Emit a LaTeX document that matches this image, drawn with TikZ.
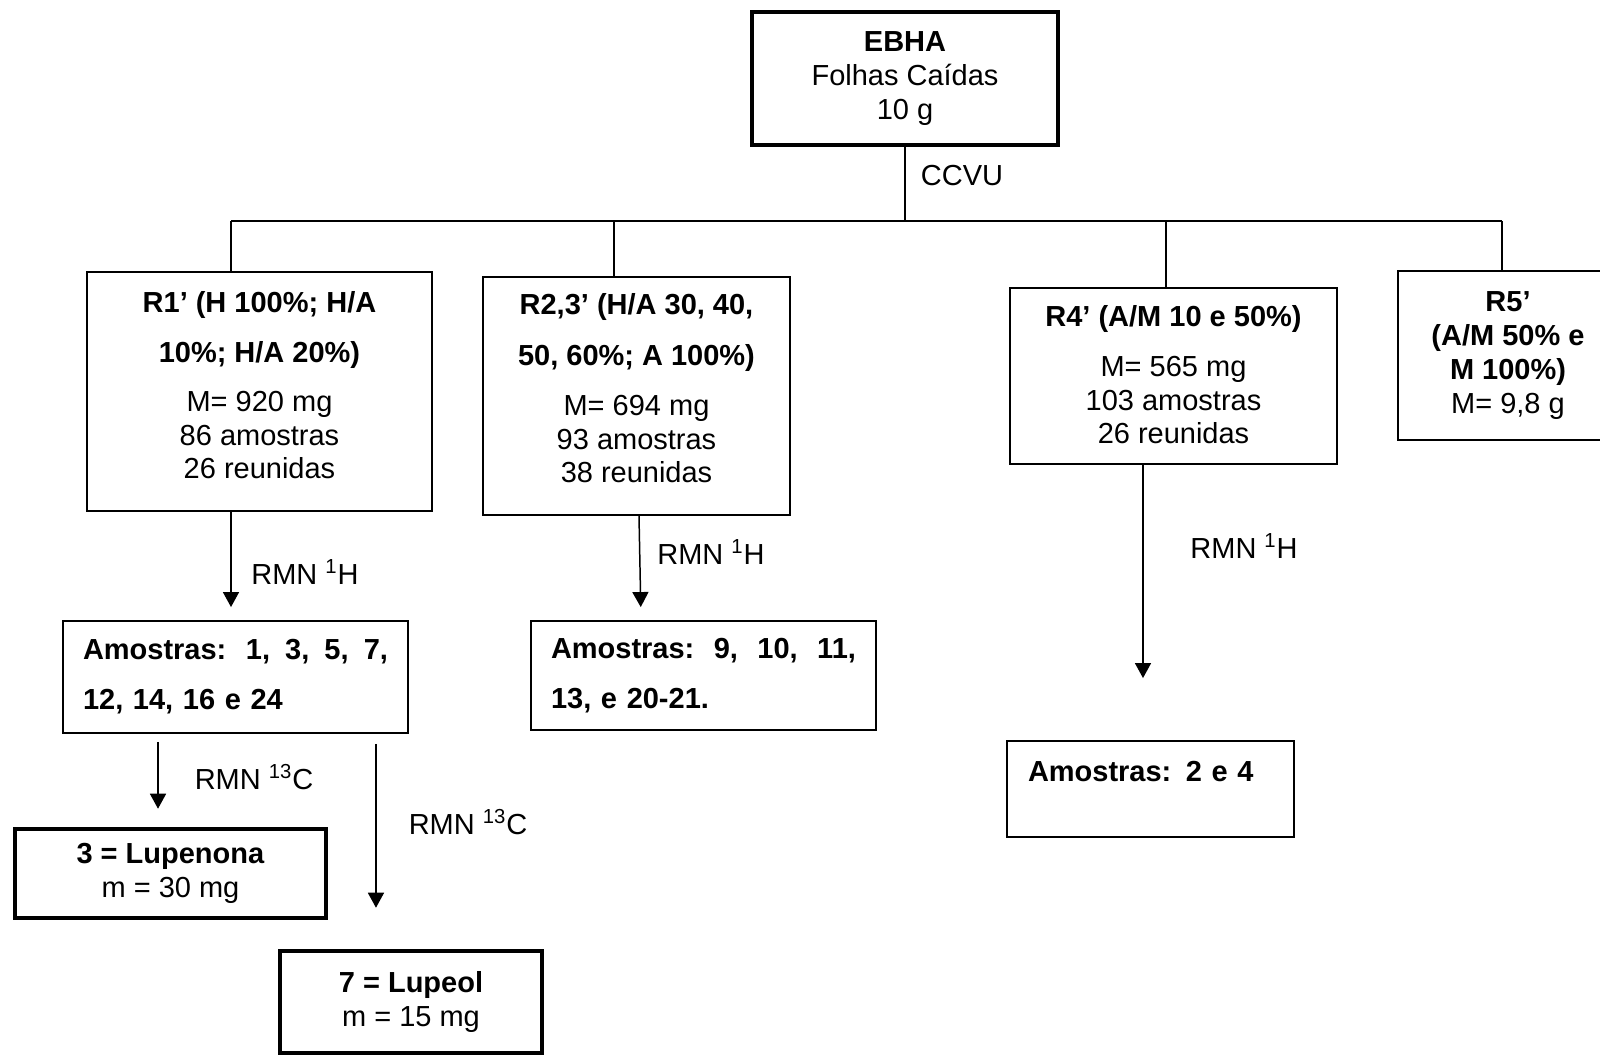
\documentclass[tikz,border=0pt]{standalone}
\usepackage{fontspec}
\setmainfont{Liberation Sans}
\usetikzlibrary{arrows.meta}

\begin{document}
\begin{tikzpicture}[x=0.02cm, y=-0.02cm,
    every node/.style={font=\fontsize{16.5}{19.3}\selectfont, align=center},
    box/.style={draw, line width=1.1pt, inner sep=0pt},
    heavybox/.style={draw, line width=2.6pt, inner sep=0pt},
    link/.style={line width=0.85pt},
    arr/.style={line width=0.85pt, -{Triangle[length=0.3cm, width=0.32cm]}}]
    \useasboundingbox (0,0) rectangle (1600,1055);
    \clip (0,0) rectangle (1600,1055);

    % Extract
    \node[heavybox, minimum width=6.12cm, minimum height=2.66cm] (ebha) at (905,78.5) {\textbf{EBHA}\\Folhas Caídas\\10 g};
    \node (ccvu) at (962,176) {CCVU};

    % Column split
    \coordinate (b1) at (231,221);
    \coordinate (b2) at (614,221);
    \coordinate (b3) at (1166,221);
    \coordinate (b4) at (1502,221);
    \draw[link] (ebha.south) -- (ebha.south |- b1);
    \draw[link] (b1) -- (b4);

    % Fractions
    \node[box, minimum width=6.9cm, minimum height=4.78cm, text height=4.14cm, text depth=0.64cm] (r1) at (259.5,391.5)
        {\textbf{R1’ (H 100\%; H/A}\\[9.2pt]\textbf{10\%; H/A 20\%)}\\[8.6pt]M= 920 mg\\86 amostras\\26 reunidas};
    \node[box, minimum width=6.14cm, minimum height=4.76cm, text height=4.12cm, text depth=0.64cm] (r23) at (636.5,396)
        {\textbf{R2,3’ (H/A 30, 40,}\\[9.7pt]\textbf{50, 60\%; A 100\%)}\\[9.2pt]M= 694 mg\\93 amostras\\38 reunidas};
    \node[box, minimum width=6.54cm, minimum height=3.52cm, text height=3.12cm, text depth=0.4cm] (r4) at (1173.5,376)
        {\textbf{R4’ (A/M 10 e 50\%)}\\[9.2pt]M= 565 mg\\103 amostras\\26 reunidas};
    \node[box, minimum width=4.4cm, minimum height=3.38cm] (r5) at (1508,355.5)
        {\textbf{R5’}\\\textbf{(A/M 50\% e}\\\textbf{M 100\%)}\\M= 9,8 g};

    \draw[link] (b1) -- (b1 |- r1.north);
    \draw[link] (b2) -- (b2 |- r23.north);
    \draw[link] (b3) -- (b3 |- r4.north);
    \draw[link] (b4) -- (b4 |- r5.north);

    % Samples
    \node[box, minimum width=6.9cm, minimum height=2.24cm, text width=6.1cm, align=left] (am1) at (235.5,677)
        {\makebox[6.1cm][l]{\textbf{Amostras:\hskip 0pt plus 1.3fill 1,\hfill 3,\hfill 5,\hfill 7,}}\\[9.2pt]\textbf{12, 14, 16 e 24}};
    \node[box, minimum width=6.9cm, minimum height=2.18cm, text width=6.1cm, align=left] (am2) at (703.5,675.5)
        {\makebox[6.1cm][l]{\textbf{Amostras:\hfill 9,\hfill 10,\hfill 11,}}\\[9.2pt]\textbf{13, e 20-21.}};
    \node[box, minimum width=5.74cm, minimum height=1.92cm, text width=4.9cm, align=left,
        text height=0.81cm, text depth=1.11cm] (am3) at (1150.5,789)
        {\textbf{Amostras: 2 e 4}};

    \draw[arr, shorten >=0.26cm] (r1.south -| b1) -- (am1.north -| b1);
    \draw[arr, shorten >=0.26cm] ([xshift=0.05cm]r23.south) -- ([xshift=-1.25cm]am2.north);
    \draw[arr, shorten >=1.24cm] ([xshift=-0.61cm]r4.south) -- ([xshift=-0.61cm]r4.south |- am3.north);
    \node (nmr1) at (305,572) {RMN \textsuperscript{1}H};
    \node (nmr2) at (711,552) {RMN \textsuperscript{1}H};
    \node (nmr3) at (1244,546) {RMN \textsuperscript{1}H};

    % Isolated compounds
    \node[heavybox, minimum width=6.22cm, minimum height=1.78cm] (lup3) at (170.5,873.5) {\textbf{3 = Lupenona}\\m = 30 mg};
    \node[heavybox, minimum width=5.24cm, minimum height=2.04cm] (lup7) at (411,1002) {\textbf{7 = Lupeol}\\m = 15 mg};

    \draw[arr, shorten <=0.16cm, shorten >=0.36cm] ([xshift=-1.55cm]am1.south) -- ([xshift=-1.55cm]am1.south |- lup3.north);
    \draw[arr, shorten <=0.2cm, shorten >=0.82cm] ([xshift=2.81cm]am1.south) -- ([xshift=2.81cm]am1.south |- lup7.north);
    \node (nmr4) at (254,777) {RMN \textsuperscript{13}C};
    \node (nmr5) at (468,822) {RMN \textsuperscript{13}C};
\end{tikzpicture}
\end{document}
